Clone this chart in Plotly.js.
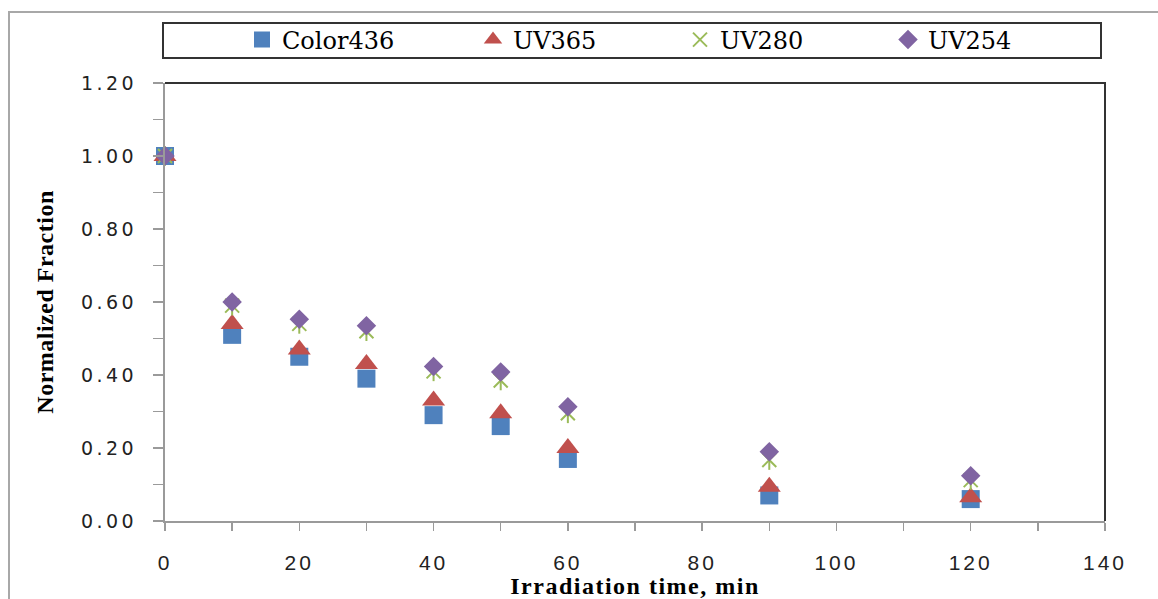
<!DOCTYPE html>
<html>
<head>
<meta charset="utf-8">
<script src="https://cdn.plot.ly/plotly-3.0.1.min.js"></script>
<style>
html,body{margin:0;padding:0;background:#fff;}
#chart{width:1158px;height:599px;}
.ytick text{letter-spacing:3.5px;}
.xtick text{letter-spacing:3px;}
.g-xtitle text{letter-spacing:1.5px;}
.g-ytitle text{letter-spacing:0.5px;}
</style>
</head>
<body>
<div id="chart"></div>
<script>
// Data
const times = [0, 10, 20, 30, 40, 50, 60, 90, 120];
const color436 = [1.00, 0.51, 0.45, 0.39, 0.29, 0.26, 0.17, 0.07, 0.06];
const uv365 = [1.00, 0.54, 0.47, 0.43, 0.33, 0.295, 0.20, 0.094, 0.065];
const uv280 = [1.00, 0.59, 0.54, 0.52, 0.41, 0.385, 0.295, 0.167, 0.112];
const uv254 = [1.00, 0.60, 0.553, 0.535, 0.423, 0.408, 0.313, 0.19, 0.124];
const seriesNames = ['Color436', 'UV365', 'UV280', 'UV254'];
const xTickVals = [0, 20, 40, 60, 80, 100, 120, 140];
const yTickVals = [0, 0.2, 0.4, 0.6, 0.8, 1.0, 1.2];

const BLUE = '#4F81BD', RED = '#C0504D', GREEN = '#9BBB59', PURPLE = '#8064A2';

const traces = [
  {x: times, y: color436, name: seriesNames[0], type: 'scatter', mode: 'markers', cliponaxis: false,
   legend: 'legend',
   marker: {symbol: 'square', size: 18, color: BLUE}},
  {x: times, y: uv365, name: seriesNames[1], type: 'scatter', mode: 'markers', cliponaxis: false,
   legend: 'legend2',
   marker: {symbol: 'triangle-up', size: 20, color: RED}},
  {x: times, y: uv280, name: seriesNames[2], type: 'scatter', mode: 'markers', cliponaxis: false,
   legend: 'legend3', legendgroup: 'uv280',
   marker: {symbol: 'x-thin-open', size: 14, color: GREEN, line: {width: 2, color: GREEN}}},
  {x: times, y: uv280, name: seriesNames[2], type: 'scatter', mode: 'markers', cliponaxis: false,
   legend: 'legend3', legendgroup: 'uv280', showlegend: false,
   marker: {symbol: 'line-ns-open', size: 14, color: GREEN, line: {width: 2, color: GREEN}}},
  {x: times, y: uv254, name: seriesNames[3], type: 'scatter', mode: 'markers', cliponaxis: false,
   legend: 'legend4',
   marker: {symbol: 'diamond', size: 15, color: PURPLE}}
];

// plot area: left 165, right 1105, top 83, bottom 521
const PL = 165, PR = 1105, PT = 83, PB = 521;
const px = v => (v - PL) / (PR - PL);
const py = v => (PB - v) / (PB - PT);

const legFont = {family: 'DejaVu Serif', size: 24, color: '#000'};
function leg(markerPx) {
  return {x: px(markerPx - 20), y: py(40), xanchor: 'left', yanchor: 'middle',
          orientation: 'h', bgcolor: 'rgba(0,0,0,0)', borderwidth: 0, font: legFont};
}

const layout = {
  width: 1158, height: 599,
  margin: {l: PL, r: 1158 - PR, t: PT, b: 599 - PB},
  paper_bgcolor: '#fff', plot_bgcolor: '#fff',
  showlegend: true,
  legend: leg(262), legend2: leg(493), legend3: leg(700), legend4: leg(908),
  xaxis: {
    range: [0, 140], tickvals: xTickVals, ticktext: xTickVals.map(String),
    showgrid: false, zeroline: false,
    showline: true, linecolor: '#9a9a9a', linewidth: 2,
    ticks: 'outside', ticklen: 8, tickwidth: 1.5, tickcolor: '#9a9a9a',
    minor: {dtick: 10, ticks: 'outside', ticklen: 8, tickwidth: 1.5, tickcolor: '#9a9a9a'},
    ticklabelstandoff: 14,
    tickfont: {family: 'Liberation Sans', size: 21, color: '#222'},
    title: {text: 'Irradiation time, min', standoff: 8,
            font: {family: 'Liberation Serif', size: 24, color: '#000', weight: 'bold'}}
  },
  yaxis: {
    range: [0, 1.2], tickvals: yTickVals, tickformat: '.2f',
    showgrid: false, zeroline: false,
    showline: true, linecolor: '#9a9a9a', linewidth: 2,
    ticks: 'outside', ticklen: 10, tickwidth: 1.5, tickcolor: '#9a9a9a',
    minor: {dtick: 0.1, ticks: 'outside', ticklen: 10, tickwidth: 1.5, tickcolor: '#9a9a9a'},
    ticklabelstandoff: 12,
    tickfont: {family: 'DejaVu Sans', size: 19, color: '#222'},
    title: {text: 'Normalized Fraction', standoff: 20,
            font: {family: 'Liberation Serif', size: 24, color: '#000', weight: 'bold'}}
  },
  shapes: [
    // outer chart frame (left and top)
    {type: 'path', xref: 'paper', yref: 'paper',
     path: `M ${px(9)} ${py(605)} L ${px(9)} ${py(12)} L ${px(1165)} ${py(12)}`,
     line: {color: '#a8a8a8', width: 2}},
    // legend box
    {type: 'rect', xref: 'paper', yref: 'paper',
     x0: px(163), x1: px(1101), y0: py(58), y1: py(23),
     line: {color: '#333', width: 2}},
    // top and right plot border
    {type: 'path', xref: 'paper', yref: 'paper',
     path: 'M 0 1 L 1 1 L 1 0',
     line: {color: '#333', width: 2}}
  ]
};

Plotly.newPlot('chart', traces, layout, {displayModeBar: false, staticPlot: true});
</script>
</body>
</html>
